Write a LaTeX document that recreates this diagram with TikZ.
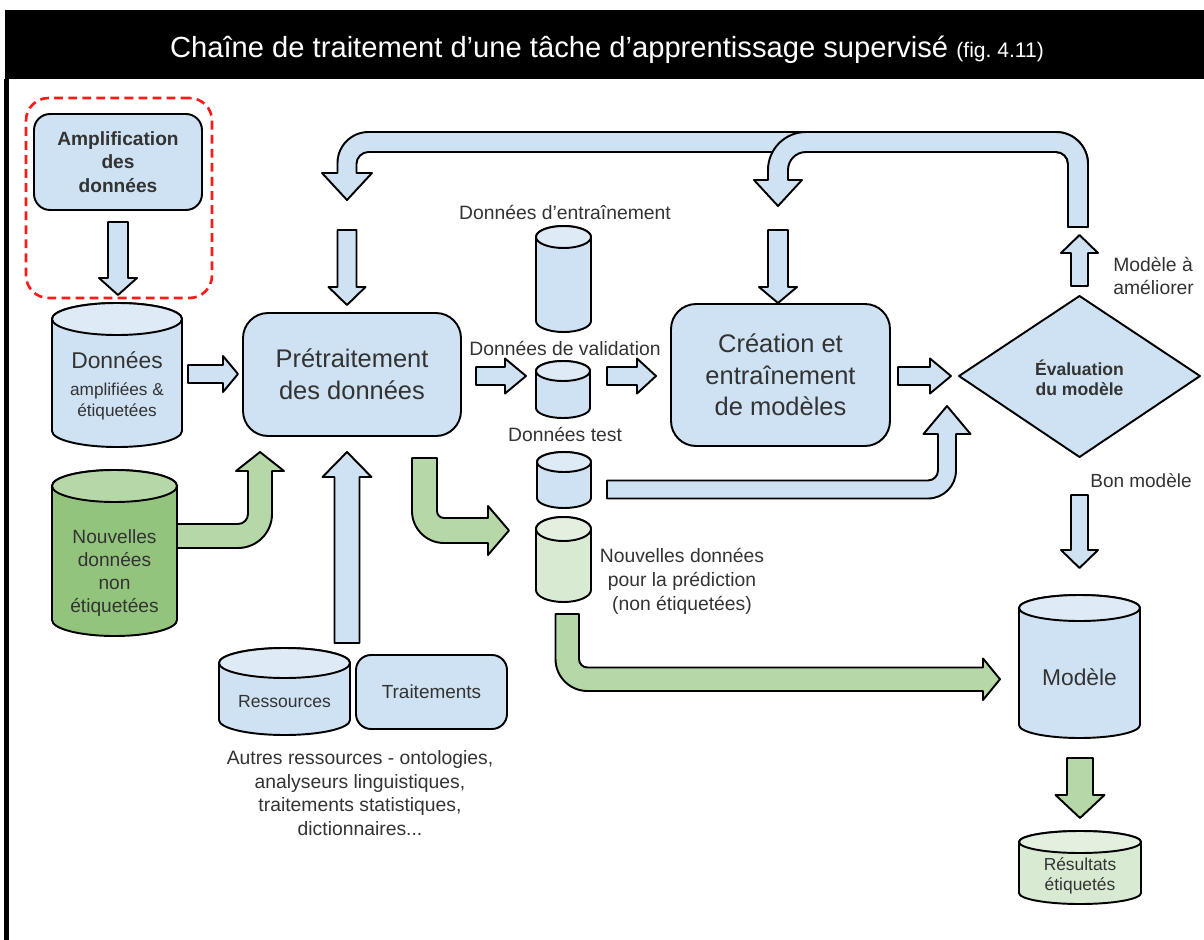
\documentclass[tikz,border=0pt]{standalone}
\usepackage{fontspec}
\setmainfont{Liberation Sans}
\definecolor{blueF}{HTML}{CFE2F3}
\definecolor{blueT}{HTML}{DEEAF6}
\definecolor{greenA}{HTML}{B6D7A8}
\definecolor{greenD}{HTML}{93C47D}
\definecolor{greenL}{HTML}{D9EAD3}
\definecolor{greenLT}{HTML}{E4F0DF}
\definecolor{txt}{HTML}{333333}
\definecolor{dashred}{HTML}{FF1A1A}

% cylinder: x1, x2, ytop, ybot, ry, body fill, top fill (pixel units, y downwards)
\newcommand\cylshape[7]{%
  \pgfmathsetmacro\cylcx{(#1+#2)/2}%
  \pgfmathsetmacro\cylrx{(#2-#1)/2}%
  \pgfmathsetmacro\cylyt{-(#3)-(#5)}%
  \pgfmathsetmacro\cylyb{-(#4)+(#5)}%
  \filldraw[outline, fill=#6] (#1,\cylyt) -- (#1,\cylyb)
    arc[start angle=180, end angle=360, x radius=\cylrx, y radius=#5]
    -- (#2,\cylyt)
    arc[start angle=0, end angle=180, x radius=\cylrx, y radius=#5] -- cycle;
  \filldraw[outline, fill=#7] (\cylcx,\cylyt) ellipse[x radius=\cylrx, y radius=#5];
}
% vertical block arrow: cx, y tail, y head base, y tip, half shaft, half head, fill
\newcommand\varrow[7]{%
  \filldraw[outline, fill=#7] ({#1-#5},-#2) -- ({#1-#5},-#3) -- ({#1-#6},-#3)
    -- (#1,-#4) -- ({#1+#6},-#3) -- ({#1+#5},-#3) -- ({#1+#5},-#2) -- cycle;
}
% horizontal block arrow: cy, x tail, x head base, x tip, half shaft, half head, fill
\newcommand\harrow[7]{%
  \filldraw[outline, fill=#7] (#2,{-#1+#5}) -- (#3,{-#1+#5}) -- (#3,{-#1+#6})
    -- (#4,-#1) -- (#3,{-#1-#6}) -- (#3,{-#1-#5}) -- (#2,{-#1-#5}) -- cycle;
}

\begin{document}
\begin{tikzpicture}[x=0.02cm, y=0.02cm,
  outline/.style={draw=black, line width=1.1pt, line join=round},
  box/.style={outline, fill=blueF, inner sep=0pt, align=center, text=txt},
  lbl/.style={inner sep=0pt, align=center, text=txt},
  bigtext/.style={font=\fontsize{14.5}{18}\selectfont},
  midtext/.style={font=\fontsize{11}{13.6}\selectfont},
  boldtext/.style={font=\fontsize{10.9}{13.3}\selectfont\bfseries}]

\useasboundingbox (0,0) rectangle (1204,-940);
\fill[white] (0,0) rectangle (1204,-940);

% header band and left frame line
\fill[black] (4.5,-10) rectangle (1204,-79);
\draw[black, line width=2.3pt] (6.5,-79) -- (6.5,-940);
\node[anchor=base, text=white, inner sep=0pt, font=\fontsize{16.6}{18}\selectfont] (title) at (607,-57)
  {Chaîne de traitement d’une tâche d’apprentissage supervisé {\fontsize{12}{13}\selectfont (fig.~4.11)}};

% feedback loops at the top
\filldraw[outline, fill=blueF] (1088,-227) -- (1088,-164)
  arc[start angle=0, end angle=90, radius=32] -- (368.5,-132)
  arc[start angle=90, end angle=180, radius=31] -- (337.5,-173)
  -- (322,-173) -- (347,-200) -- (372,-173) -- (356.5,-173) -- (356.5,-164)
  arc[start angle=180, end angle=90, radius=12] -- (1056,-152)
  arc[start angle=90, end angle=0, radius=12] -- (1068,-227) -- cycle;
\filldraw[outline, fill=blueF] (1088,-227) -- (1088,-164)
  arc[start angle=0, end angle=90, radius=32] -- (806,-132)
  arc[start angle=90, end angle=180, radius=38] -- (768,-180)
  -- (754,-180) -- (778,-206) -- (802,-180) -- (788,-180) -- (788,-170)
  arc[start angle=180, end angle=90, radius=18] -- (1056,-152)
  arc[start angle=90, end angle=0, radius=12] -- (1068,-227) -- cycle;

% data augmentation
\node[draw=dashred, line width=1.5pt, dash pattern=on 5pt off 3pt, rounded corners=0.45cm,
  minimum width=3.72cm, minimum height=4cm] (ampzone) at (119,-198) {};
\node[box, boldtext, rounded corners=0.32cm, minimum width=3.36cm, minimum height=1.92cm]
  (amp) at (118,-162) {Amplification\\des\\données};
\varrow{118}{222}{278}{295}{10}{19}{blueF}

% labelled data
\cylshape{52}{182}{303}{447}{16}{blueF}{blueT}
\node[lbl] (donnees) at (117,-386)
  {{\fontsize{13}{15}\selectfont Données}\\[3pt]{\fontsize{9.8}{10.8}\selectfont amplifiées \&}\\{\fontsize{9.8}{10.8}\selectfont étiquetées}};
\harrow{374}{188}{223}{238}{9}{18}{blueF}

% unlabelled data
\cylshape{52}{177}{470}{636}{16}{greenD}{greenA}
\node[lbl, font=\fontsize{10.9}{13.2}\selectfont] (nonlab) at (114.5,-573)
  {Nouvelles\\données\\non\\étiquetées};
\filldraw[outline, fill=greenA] (177,-524) -- (238,-524)
  arc[start angle=-90, end angle=0, radius=10] -- (248,-471)
  -- (236,-471) -- (260,-452) -- (284,-471) -- (272,-471) -- (272,-514)
  arc[start angle=0, end angle=-90, radius=34] -- (177,-548) -- cycle;

% preprocessing
\varrow{347}{230}{287}{305}{9.5}{18.5}{blueF}
\node[box, bigtext, rounded corners=0.5cm, minimum width=4.36cm, minimum height=2.46cm]
  (pre) at (352,-374.5) {Prétraitement\\des données};
\varrow{347}{643}{477}{452}{12.5}{24.5}{blueF}

% resources
\cylshape{219}{350}{648}{735}{15}{blueF}{blueT}
\node[lbl, font=\fontsize{10}{12}\selectfont] (ress) at (284.5,-702) {Ressources};
\node[box, font=\fontsize{10.8}{13}\selectfont, rounded corners=0.3cm, minimum width=3.02cm, minimum height=1.48cm]
  (trait) at (431.5,-692) {Traitements};
\node[lbl, font=\fontsize{11}{13.4}\selectfont] (autres) at (360,-793)
  {Autres ressources - ontologies,\\analyseurs linguistiques,\\traitements statistiques,\\dictionnaires...};

% data splits
\node[lbl, midtext] (ltrain) at (565,-212) {Données d’entraînement};
\cylshape{536}{591}{226}{332}{11}{blueF}{blueT}
\node[lbl, midtext] (lval) at (565,-348) {Données de validation};
\cylshape{536}{590}{361}{418}{10}{blueF}{blueT}
\node[lbl, midtext] (ltest) at (565,-434) {Données test};
\cylshape{537}{591}{452}{508}{10}{blueF}{blueT}
\cylshape{536}{591}{517}{602}{12}{greenL}{greenLT}
\node[lbl, midtext] (lpred) at (682,-581) {Nouvelles données\\pour la prédiction\\(non étiquetées)};

\harrow{376}{476}{505}{526}{9}{17.5}{blueF}
\harrow{376}{607}{637}{656}{9}{17.5}{blueF}
\filldraw[outline, fill=greenA] (412,-458) -- (412,-511)
  arc[start angle=180, end angle=270, radius=32] -- (488,-543)
  -- (488,-555) -- (509,-530.5) -- (488,-506) -- (488,-518) -- (444,-518)
  arc[start angle=270, end angle=180, radius=7] -- (437,-458) -- cycle;

% model creation and evaluation
\varrow{778}{230}{287}{303}{10}{19}{blueF}
\node[box, bigtext, rounded corners=0.5cm, minimum width=4.38cm, minimum height=2.84cm]
  (crea) at (780.5,-375) {Création et\\entraînement\\de modèles};
\harrow{376}{898}{930}{951}{9}{17.5}{blueF}
\filldraw[outline, fill=blueF] (607,-480.5) -- (928,-480.5)
  arc[start angle=-90, end angle=0, radius=10] -- (938,-434)
  -- (923.5,-434) -- (947,-406) -- (970.5,-434) -- (956,-434) -- (956,-470.5)
  arc[start angle=0, end angle=-90, radius=28] -- (607,-498.5) -- cycle;

\filldraw[outline, fill=blueF] (959,-376) -- (1079.5,-296) -- (1200,-376) -- (1079.5,-457) -- cycle;
\node[lbl, font=\fontsize{10}{11.4}\selectfont\bfseries] (eval) at (1079.5,-378) {Évaluation\\du modèle};
\varrow{1079.5}{286}{253}{235}{8.5}{18.5}{blueF}
\node[lbl, align=left, midtext, anchor=west] (ameliorer) at (1113,-276) {Modèle à\\améliorer};
\node[lbl, font=\fontsize{10.8}{13}\selectfont] (bon) at (1141,-481) {Bon modèle};
\varrow{1079.5}{495}{550}{568}{8.5}{18.5}{blueF}

% model and predictions
\cylshape{1019}{1140}{595}{738}{13}{blueF}{blueT}
\node[lbl, font=\fontsize{13}{15}\selectfont] (modele) at (1079.5,-677) {Modèle};
\filldraw[outline, fill=greenA] (555.5,-614) -- (555.5,-659)
  arc[start angle=180, end angle=270, radius=32] -- (983,-691)
  -- (983,-700) -- (1000,-679.25) -- (983,-658.5) -- (983,-667.5) -- (587.5,-667.5)
  arc[start angle=270, end angle=180, radius=8.5] -- (579,-614) -- cycle;
\varrow{1080}{758}{795}{818}{13}{24.5}{greenA}
\cylshape{1019}{1141}{831}{904}{11}{greenL}{greenLT}
\node[lbl, font=\fontsize{9.9}{11.3}\selectfont] (result) at (1080,-876) {Résultats\\étiquetés};

\end{tikzpicture}
\end{document}
